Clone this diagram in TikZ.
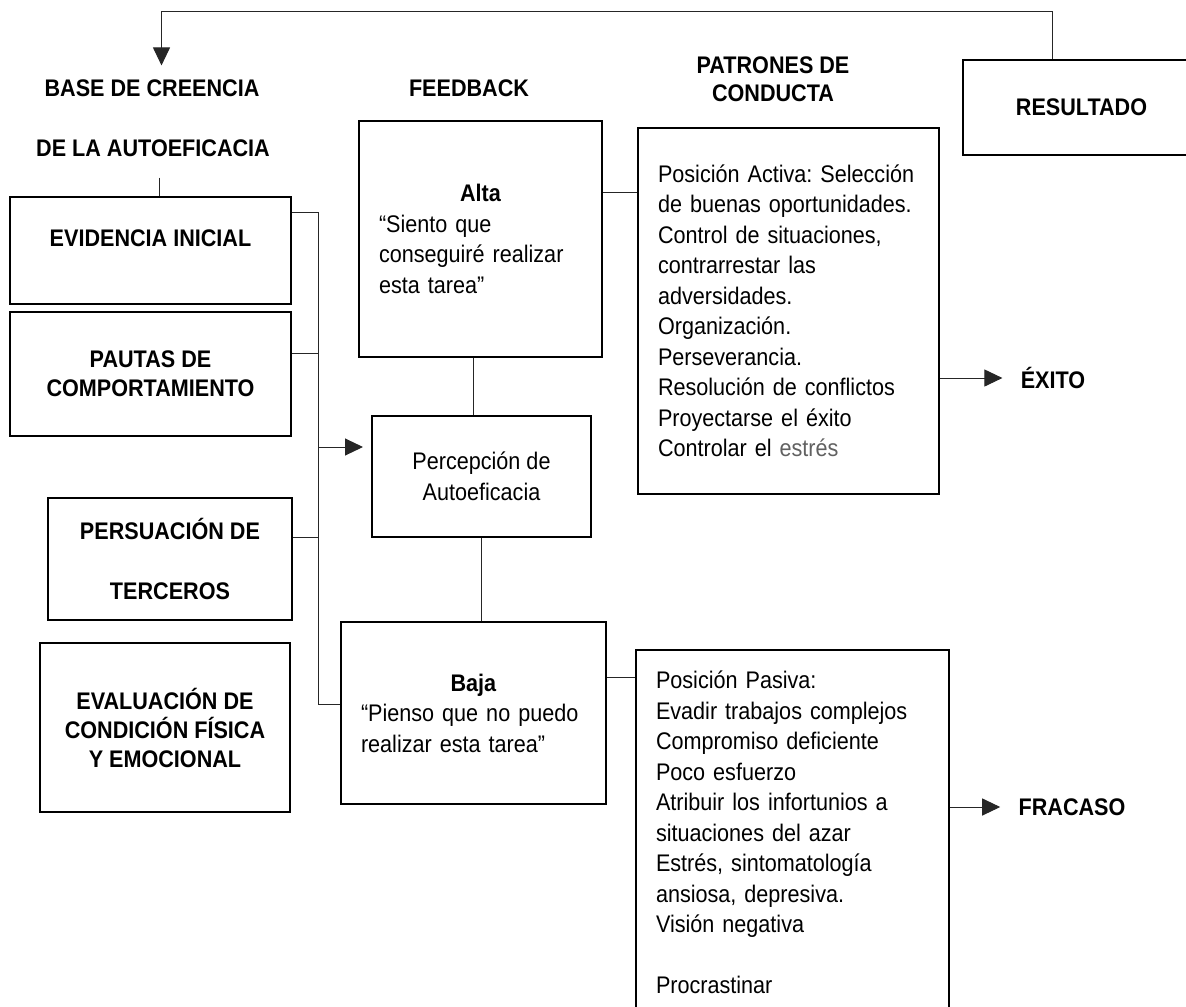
\documentclass[tikz,border=0pt]{standalone}
\usepackage{fontspec}
\setmainfont{Liberation Sans}[FakeStretch=0.9]
\frenchspacing
\usetikzlibrary{shapes,arrows.meta,positioning,calc}

\begin{document}
\begin{tikzpicture}[
    x=0.5pt, y=-0.5pt,
    every node/.style={font=\fontsize{12}{15.25}\selectfont},
    head/.style={font=\fontsize{12}{14}\selectfont\bfseries, align=center},
    box/.style={rectangle, draw, line width=1pt, inner sep=0pt, align=center, font=\fontsize{12}{14.5}\selectfont\bfseries},
    plainbox/.style={rectangle, draw, line width=1pt, inner sep=0pt, align=center},
    listbox/.style={rectangle, draw, line width=1pt, align=left, inner xsep=10pt, inner ysep=0pt},
    result/.style={font=\fontsize{12}{14}\selectfont\bfseries, inner xsep=9pt},
    link/.style={line width=0.5pt, black!85},
    arrow/.style={link, -{Triangle[length=9pt,width=8.5pt]}}
]
\useasboundingbox (0,0) rectangle (1186,1006);
\clip (0,0) rectangle (1186,1006);

\node[head] (base1) at (152,88) {BASE DE CREENCIA};
\node[head] (base2) at (153,148) {DE LA AUTOEFICACIA};
\node[head] (feed) at (469,88) {FEEDBACK};
\node[head] (patron) at (773,79) {PATRONES DE\\CONDUCTA};
\node[box, minimum width=118.5pt, minimum height=47.5pt] (res) at (1081.5,107.5) {RESULTADO};

\node[box, minimum width=140.5pt, minimum height=53.5pt, text depth=12.5pt] (evid) at (150.5,250.5) {EVIDENCIA INICIAL};
\node[box, minimum width=140.5pt, minimum height=62pt] (pautas) at (150.5,374) {PAUTAS DE\\COMPORTAMIENTO};
\node[box, minimum width=122pt, minimum height=61pt] (persua) at (170,559) {PERSUACIÓN DE\\[15.5pt]TERCEROS};
\node[box, minimum width=125pt, minimum height=84.5pt] (evalua) at (165,727.5) {EVALUACIÓN DE\\CONDICIÓN FÍSICA\\Y EMOCIONAL};

\node[listbox, text width=101.5pt, minimum height=118pt] (alta) at (480.5,239) {\makebox[101.5pt]{\textbf{Alta}}\\“Siento que\\conseguiré realizar\\esta tarea”};
\node[plainbox, minimum width=109.5pt, minimum height=60.5pt] (percep) at (481.5,476.5) {Percepción de\\Autoeficacia};
\node[listbox, text width=112.5pt, minimum height=91pt] (baja) at (473.5,713) {\makebox[112.5pt]{\textbf{Baja}}\\“Pienso que no puedo\\realizar esta tarea”};

\node[listbox, text width=130.5pt, minimum height=183pt] (activa) at (788.5,311) {Posición Activa: Selección\\de buenas oportunidades.\\Control de situaciones,\\contrarrestar las\\adversidades.\\Organización.\\Perseverancia.\\Resolución de conflictos\\Proyectarse el éxito\\Controlar el \textcolor{black!62}{estrés}};
\node[listbox, text width=136.5pt, minimum height=182.5pt] (pasiva) at (792.5,832.5) {Posición Pasiva:\\Evadir trabajos complejos\\Compromiso deficiente\\Poco esfuerzo\\Atribuir los infortunios a\\situaciones del azar\\Estrés, sintomatología\\ansiosa, depresiva.\\Visión negativa\\[15.25pt]Procrastinar};

\node[result] (exito) at (1053,378) {ÉXITO};
\node[result] (fracaso) at (1072,807) {FRACASO};

\coordinate (bustop) at (318,212);
\coordinate (busbot) at (318,704);

\draw[arrow, shorten >=3.5pt] ([xshift=-14.75pt]res.north) -- ++(0,-47) -| ([xshift=4.75pt]base1.north);
\draw[link] ([xshift=3pt,yshift=-7pt]base2.south) -- ([xshift=3pt]base2.south |- evid.north);

\draw[link] (evid.east |- bustop) -- (bustop) -- (busbot) -- (busbot -| baja.west);
\draw[link] ([yshift=10.5pt]pautas.east) -- ([yshift=10.5pt]pautas.east -| bustop);
\draw[link] ([yshift=11pt]persua.east) -- ([yshift=11pt]persua.east -| bustop);
\draw[arrow, shorten >=4pt] ([yshift=14.75pt]percep.west -| bustop) -- ([yshift=14.75pt]percep.west);

\draw[link] ([xshift=-3.75pt]alta.south) -- ([xshift=-3.75pt]alta.south |- percep.north);
\draw[link] (percep.south) -- (percep.south |- baja.north);
\draw[link] ([yshift=23.5pt]alta.east) -- ([yshift=23.5pt]alta.east -| activa.west);
\draw[link] ([yshift=18pt]baja.east) -- ([yshift=18pt]baja.east -| pasiva.west);

\draw[arrow] (activa.east |- exito) -- (exito.west);
\draw[arrow] (pasiva.east |- fracaso) -- (fracaso.west);
\end{tikzpicture}
\end{document}
